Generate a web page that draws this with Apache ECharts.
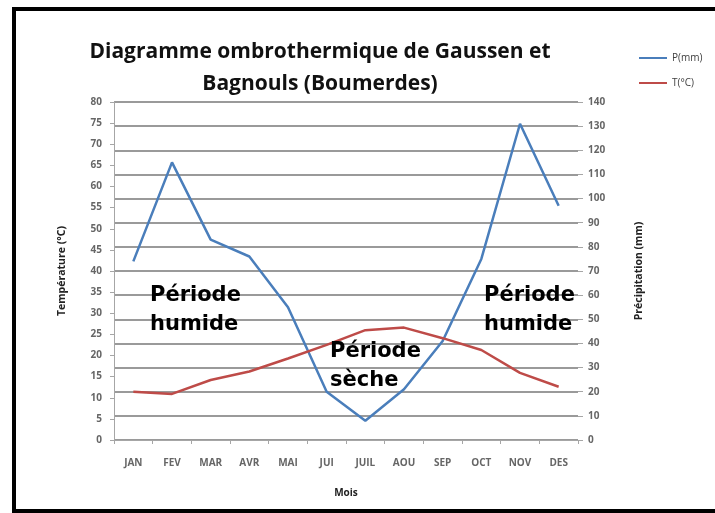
<!DOCTYPE html>
<html>
<head>
<meta charset="utf-8">
<script src="https://cdn.jsdelivr.net/npm/echarts@6/dist/echarts.min.js"></script>
<style>
  html, body {margin: 0; padding: 0; background: #fff;}
  #chart {width: 715px; height: 513px;}
</style>
</head>
<body>
<div id="chart"></div>
<script>
const months = ["JAN", "FEV", "MAR", "AVR", "MAI", "JUI", "JUIL", "AOU", "SEP", "OCT", "NOV", "DES"];
const precip_mm = [74, 115, 83, 76, 55, 20, 8, 21, 41, 75, 131, 97];
const temp_c = [11.4, 10.9, 14.2, 16.2, 19.3, 22.5, 26.0, 26.6, 24.1, 21.3, 15.9, 12.6];

const label_font = {fontFamily: "Open Sans", fontSize: 10, fontWeight: "bold", color: "#666"};
const name_font = {fontFamily: "Open Sans", fontSize: 10.5, fontWeight: "bold", color: "#222"};
const note_style = {fontFamily: "DejaVu Sans", fontSize: 21, fontWeight: "bold", fill: "#000", lineHeight: 29};

function note(text, left, top){
  return {type: "text", left, top, style: Object.assign({text}, note_style), z: 10};
}

const chart = echarts.init(document.getElementById("chart"), null, {renderer: "canvas"});

chart.setOption({
  animation: false,
  title: {
    text: "Diagramme ombrothermique de Gaussen et\nBagnouls (Boumerdes)",
    left: 315, top: 31, textAlign: "center",
    textStyle: {fontFamily: "Open Sans", fontSize: 21, fontWeight: "bold", color: "#111", lineHeight: 32}
  },
  legend: {
    orient: "vertical", left: 634, top: 48, itemGap: 15,
    itemWidth: 28, itemHeight: 2,
    textStyle: {fontFamily: "Open Sans", fontSize: 10, color: "#404040"},
    data: [{name: "P(mm)", icon: "rect"}, {name: "T(°C)", icon: "rect"}]
  },
  grid: {left: 114, right: 137, top: 102, bottom: 73},
  xAxis: {
    type: "category", data: months, boundaryGap: true,
    name: "Mois", nameLocation: "middle", nameGap: 48,
    nameTextStyle: Object.assign({}, name_font, {fontSize: 10}),
    axisLine: {lineStyle: {color: "#a6a6a6", width: 1}},
    axisTick: {show: true, lineStyle: {color: "#a6a6a6"}, length: 4},
    axisLabel: Object.assign({margin: 18}, label_font)
  },
  yAxis: [
    {
      type: "value", min: 0, max: 80, interval: 5,
      name: "Température (°C)", nameLocation: "middle", nameGap: 46, nameRotate: 90,
      nameTextStyle: name_font,
      axisLine: {show: true, lineStyle: {color: "#a6a6a6"}},
      axisTick: {show: true, length: 4, lineStyle: {color: "#a6a6a6"}},
      axisLabel: Object.assign({margin: 12}, label_font),
      splitLine: {show: false}
    },
    {
      type: "value", min: 0, max: 140, interval: 10, position: "right",
      name: "Précipitation (mm)", nameLocation: "middle", nameGap: 56, nameRotate: 90,
      nameTextStyle: name_font,
      axisLine: {show: false},
      axisTick: {show: true, length: 5, lineStyle: {color: "#a6a6a6"}},
      axisLabel: Object.assign({margin: 10}, label_font),
      splitLine: {show: true, lineStyle: {color: "#9a9a9a", width: 2}}
    }
  ],
  series: [
    {
      name: "P(mm)", type: "line", yAxisIndex: 1, data: precip_mm,
      symbol: "none", lineStyle: {color: "#4a7ebb", width: 2.5}, itemStyle: {color: "#4a7ebb"}
    },
    {
      name: "T(°C)", type: "line", yAxisIndex: 0, data: temp_c,
      symbol: "none", lineStyle: {color: "#be4b48", width: 2.5}, itemStyle: {color: "#be4b48"}
    }
  ],
  graphic: [
    {type: "rect", shape: {x: 14, y: 9, width: 740, height: 502}, style: {fill: "none", stroke: "#000", lineWidth: 4}, silent: true},
    note("Période\nhumide", 150, 281),
    note("Période\nsèche", 330, 337),
    note("Période\nhumide", 484, 281)
  ]
});
</script>
</body>
</html>
